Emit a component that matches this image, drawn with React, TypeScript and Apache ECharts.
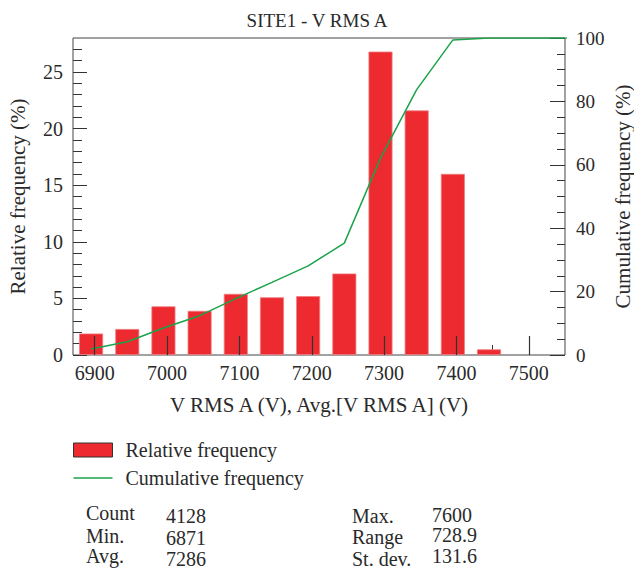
import React, { useEffect, useRef } from 'react';
import * as echarts from 'echarts';

const binCenters = [6895, 6945, 6995, 7045, 7095, 7145, 7195, 7245, 7295, 7345, 7395, 7445];
const relativeFrequency = [1.9, 2.3, 4.3, 3.9, 5.4, 5.1, 5.2, 7.2, 26.8, 21.6, 16.0, 0.5];
const cumulativeX = [6895, 6945, 6995, 7045, 7095, 7145, 7195, 7245, 7295, 7345, 7395, 7445, 7495, 7545, 7595];
const cumulativeFrequency = [1.9, 4.2, 8.5, 12.4, 17.8, 22.9, 28.1, 35.3, 62.1, 83.7, 99.4, 100, 100, 100, 100];

const xMajorTicks = [6900, 7000, 7100, 7200, 7300, 7400, 7500];
const xMinorTicks = [6950, 7050, 7150, 7250, 7350, 7450];
const leftMajorTicks = [0, 5, 10, 15, 20, 25];
const leftMinorTicks = [1, 2, 3, 4, 6, 7, 8, 9, 11, 12, 13, 14, 16, 17, 18, 19, 21, 22, 23, 24, 26, 27];
const rightMajorTicks = [0, 20, 40, 60, 80, 100];
const rightMinorTicks = [5, 10, 15, 25, 30, 35, 45, 50, 55, 65, 70, 75, 85, 90, 95];

const statLabelsLeft = ['Count', 'Min.', 'Avg.'];
const statValuesLeft = ['4128', '6871', '7286'];
const statLabelsRight = ['Max.', 'Range', 'St. dev.'];
const statValuesRight = ['7600', '728.9', '131.6'];

const FONT = 'Liberation Serif, DejaVu Serif, serif';
const TXT = '#2a2a2a';
const AX = '#333333';
const RED = '#EC2A2F';
const GREEN = '#1AA34A';

export default function App() {
  const ref = useRef<HTMLDivElement>(null);
  useEffect(() => {
    if (!ref.current) return;
    const chart = echarts.init(ref.current, undefined, { renderer: 'svg' });

    const statText = (labels: string[], x: number, ys: number[]) =>
      labels.map((t, i) => ({
        type: 'text',
        x,
        y: ys[i],
        style: { text: t, fill: TXT, fontFamily: FONT, fontSize: 20, verticalAlign: 'middle' },
      }));

    const plain = (v: number) => String(v);

    const option: any = {
      animation: false,
      textStyle: { fontFamily: FONT },
      title: {
        text: 'SITE1 - V RMS A',
        left: 'center',
        top: 6,
        textStyle: { fontFamily: FONT, fontSize: 19, fontWeight: 'normal', color: TXT },
      },
      grid: {
        left: 73,
        right: 69,
        top: 38,
        bottom: 216,
        containLabel: false,
        outerBoundsMode: 'none',
        show: true,
        borderColor: '#444',
        borderWidth: 1,
        backgroundColor: 'transparent',
      },
      legend: {
        orient: 'vertical',
        left: 73,
        top: 440,
        padding: 0,
        itemWidth: 39,
        itemHeight: 14,
        itemGap: 8,
        textStyle: { fontFamily: FONT, fontSize: 20, color: TXT, padding: [0, 0, 0, 8] },
        data: [
          { name: 'Relative frequency', icon: 'rect', itemStyle: { color: RED, borderColor: '#333', borderWidth: 1 } },
          {
            name: 'Cumulative frequency',
            icon: 'path://M0,0 L36,0 L36,1.5 L0,1.5 Z',
            itemStyle: { color: GREEN },
          },
        ],
      },
      xAxis: [
        {
          type: 'value',
          position: 'bottom',
          min: 6870,
          max: 7550,
          z: 10,
          axisLine: { show: false },
          splitLine: { show: false },
          axisTick: { show: true, inside: true, length: 19, customValues: xMajorTicks, lineStyle: { color: AX, width: 1.2 } },
          axisLabel: { customValues: xMajorTicks, formatter: plain, fontFamily: FONT, fontSize: 20, color: TXT, margin: 8 },
          name: 'V RMS A (V), Avg.[V RMS A] (V)',
          nameLocation: 'middle',
          nameGap: 39,
          nameMoveOverlap: false,
          nameTextStyle: { fontFamily: FONT, fontSize: 21, color: TXT },
        },
        {
          type: 'value',
          position: 'bottom',
          min: 6870,
          max: 7550,
          z: 0,
          axisLine: { show: false },
          splitLine: { show: false },
          axisTick: { show: true, inside: true, length: 10, customValues: xMinorTicks, lineStyle: { color: AX, width: 1 } },
          axisLabel: { show: false },
        },
      ],
      yAxis: [
        {
          type: 'value',
          position: 'left',
          min: 0,
          max: 28,
          axisLine: { show: false },
          splitLine: { show: false },
          axisTick: { show: true, inside: true, length: 14, customValues: leftMajorTicks, lineStyle: { color: AX } },
          axisLabel: { customValues: leftMajorTicks, formatter: plain, fontFamily: FONT, fontSize: 20, color: TXT, margin: 10 },
          name: 'Relative frequency (%)',
          nameLocation: 'middle',
          nameGap: 45,
          nameMoveOverlap: false,
          nameTextStyle: { fontFamily: FONT, fontSize: 21, color: TXT },
        },
        {
          type: 'value',
          position: 'left',
          min: 0,
          max: 28,
          axisLine: { show: false },
          splitLine: { show: false },
          axisTick: { show: true, inside: true, length: 9, customValues: leftMinorTicks, lineStyle: { color: AX } },
          axisLabel: { show: false },
        },
        {
          type: 'value',
          position: 'right',
          min: 0,
          max: 100,
          axisLine: { show: false },
          splitLine: { show: false },
          axisTick: { show: true, inside: true, length: 15, customValues: rightMajorTicks, lineStyle: { color: AX } },
          axisLabel: { customValues: rightMajorTicks, formatter: plain, fontFamily: FONT, fontSize: 19, color: TXT, margin: 11 },
          name: 'Cumulative frequency (%)',
          nameLocation: 'middle',
          nameGap: 47,
          nameMoveOverlap: false,
          nameTextStyle: { fontFamily: FONT, fontSize: 21, color: TXT },
        },
        {
          type: 'value',
          position: 'right',
          min: 0,
          max: 100,
          axisLine: { show: false },
          splitLine: { show: false },
          axisTick: { show: true, inside: true, length: 8, customValues: rightMinorTicks, lineStyle: { color: AX } },
          axisLabel: { show: false },
        },
      ],
      series: [
        {
          name: 'Relative frequency',
          type: 'bar',
          xAxisIndex: 0,
          yAxisIndex: 0,
          barWidth: 24,
          data: binCenters.map((x, i) => [x, relativeFrequency[i]]),
          itemStyle: { color: RED, borderColor: '#F07E82', borderWidth: 0.8 },
          z: 2,
        },
        {
          name: 'Cumulative frequency',
          type: 'line',
          xAxisIndex: 0,
          yAxisIndex: 2,
          symbol: 'none',
          clip: true,
          data: cumulativeX.map((x, i) => [x, cumulativeFrequency[i]]),
          lineStyle: { color: GREEN, width: 1.5 },
          itemStyle: { color: GREEN },
          z: 3,
        },
      ],
      graphic: [
        ...statText(statLabelsLeft, 86, [513, 536, 556]),
        ...statText(statValuesLeft, 166, [516, 538, 559]),
        ...statText(statLabelsRight, 352, [516, 537, 559]),
        ...statText(statValuesRight, 432, [515, 535, 556]),
      ],
    };
    chart.setOption(option);
    return () => chart.dispose();
  }, []);
  return <div ref={ref} style={{ position: 'absolute', left: 0, top: 0, width: 634, height: 571 }} />;
}
